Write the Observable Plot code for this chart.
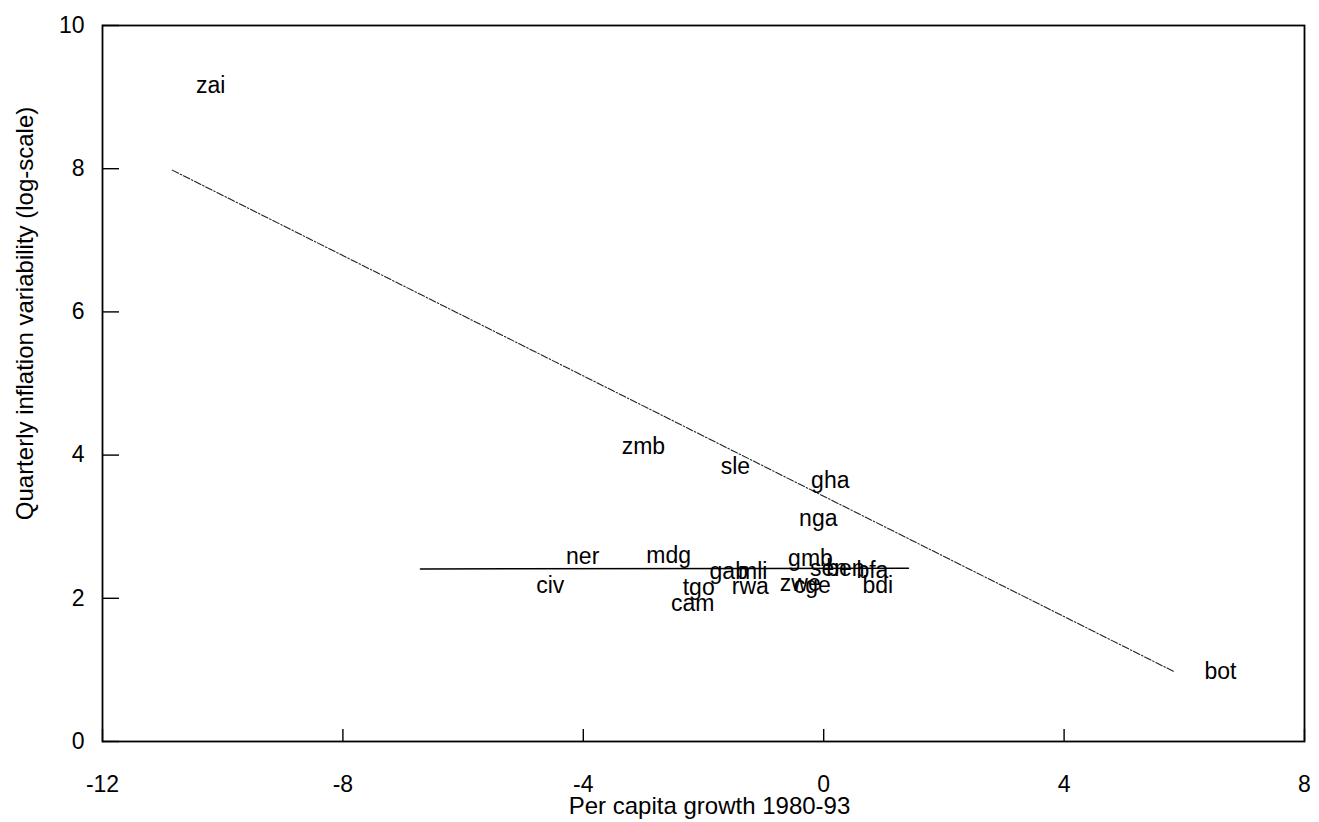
<!DOCTYPE html>
<html><head><meta charset="utf-8">
<script src="https://cdn.jsdelivr.net/npm/d3@7"></script>
<script src="https://cdn.jsdelivr.net/npm/@observablehq/plot@0.6"></script>
<style>html,body{margin:0;padding:0;background:#fff;}</style>
</head><body><div id="chart"></div>
<script>
// Country codes (point labels)
const countries = ["zai","zmb","sle","gha","nga","ner","mdg","civ","tgo","cam","gab","mli","rwa","gmb","zwe","cge","sen","ben","bfa","bdi","bot"];
// Per capita growth 1980-93
const growth = [-10.20,-3.00,-1.47,0.11,-0.09,-4.01,-2.58,-4.55,-2.08,-2.18,-1.58,-1.18,-1.22,-0.22,-0.39,-0.19,0.08,0.36,0.81,0.90,6.60];
// Quarterly inflation variability (log-scale)
const inflVar = [9.16,4.12,3.84,3.64,3.11,2.58,2.60,2.18,2.15,1.93,2.37,2.37,2.16,2.56,2.21,2.18,2.42,2.42,2.39,2.18,0.97];
// Fitted regression line (all countries)
const fitX = [-10.84, 5.82];
const fitY = [7.98, 0.98];
// Second (flat) fitted line
const subX = [-6.71, 1.41];
const subY = [2.41, 2.42];
// Ticks and titles
const xTicks = [-12,-8,-4,0,4,8];
const yTicks = [0,2,4,6,8,10];
const xTitle = "Per capita growth 1980-93";
const yTitle = "Quarterly inflation variability (log-scale)";

const points = countries.map((c,i)=>({code:c, x:growth[i], y:inflVar[i]}));
const fit = fitX.map((x,i)=>({x, y:fitY[i]}));
const sub = subX.map((x,i)=>({x, y:subY[i]}));

const W=1319, H=822, mL=102, mR=15, mT=25, mB=81;
const innerW = W-mL-mR, innerH = H-mT-mB;
const fmt = d => String(d);

const chart = Plot.plot({
  width:W, height:H, marginLeft:mL, marginRight:mR, marginTop:mT, marginBottom:mB,
  style:{fontFamily:"'Liberation Sans', Arial, Helvetica, sans-serif", fontSize:"23px", color:"#000", background:"#fff"},
  x:{domain:[-12,8]},
  y:{domain:[0,10]},
  marks:[
    Plot.axisX(xTicks, {tickSize:0, tickPadding:34, fontSize:23, tickFormat:fmt, label:null}),
    Plot.axisY(yTicks, {tickSize:0, tickPadding:18, fontSize:23, tickFormat:fmt, label:null}),
    Plot.tickX(xTicks, {x:d=>d, insetTop: innerH-12, stroke:"#000", strokeWidth:1.4}),
    Plot.tickY(yTicks, {y:d=>d, insetRight: innerW-17, stroke:"#000", strokeWidth:1.4}),
    Plot.line(fit, {x:"x", y:"y", stroke:"#222", strokeWidth:1.1, strokeDasharray:"7,2,1.5,2"}),
    Plot.line(sub, {x:"x", y:"y", stroke:"#000", strokeWidth:1.5}),
    Plot.text(points, {x:"x", y:"y", text:"code", fontSize:23, fill:"#000"}),
    Plot.frame({stroke:"#000", strokeWidth:1.8}),
    Plot.text([xTitle], {frameAnchor:"bottom", lineAnchor:"middle", dy:65, dx:6, fontSize:24, fill:"#000"}),
    Plot.text([yTitle], {frameAnchor:"left", textAnchor:"middle", dx:-77, dy:-70, rotate:-90, fontSize:24, fill:"#000"})
  ]
});
document.getElementById("chart").appendChild(chart);
</script>
</body></html>
